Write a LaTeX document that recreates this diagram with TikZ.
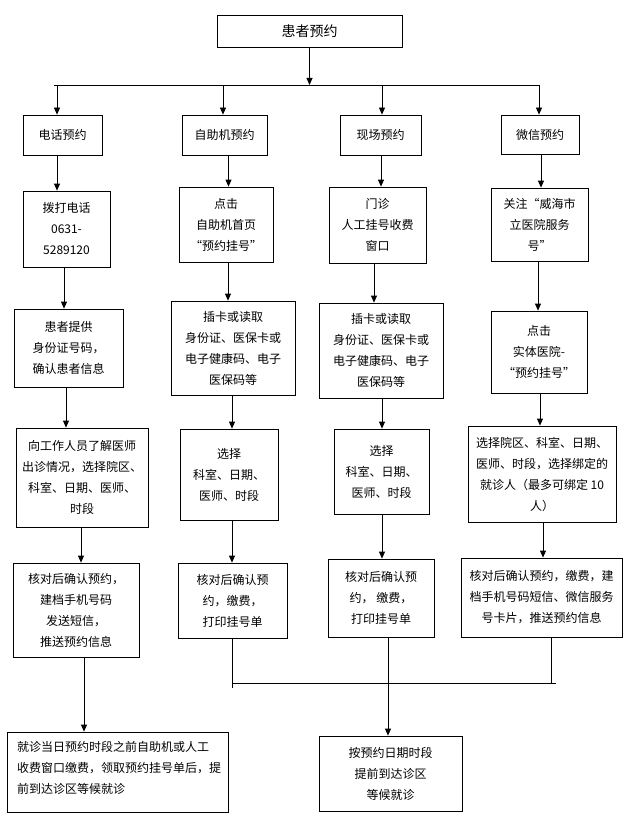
\documentclass[tikz,border=0pt]{standalone}
\usepackage{fontspec}
\setmainfont{Noto Sans CJK SC}
\usetikzlibrary{arrows.meta}
\begin{document}
\begin{tikzpicture}[x=1pt,y=-1pt,
  every node/.style={font=\fontsize{12}{21}\selectfont},
  box/.style={draw, line width=0.8pt, align=center, inner sep=2pt},
  conn/.style={line width=0.8pt},
  arr/.style={line width=0.8pt, -{Triangle[length=7pt,width=6pt]}}]
\useasboundingbox (0,0) rectangle (633,832);
\fill[white] (0,0) rectangle (633,832);
% top
\node[box, minimum width=185pt, minimum height=32pt, font=\fontsize{14}{16}\selectfont] (top) at (309.5,31) {患者预约};
\coordinate (hl) at (54,85);
\coordinate (hr) at (539,85);
\coordinate (ha) at (57,85);
\coordinate (hb) at (223,85);
\coordinate (hc) at (382,85);
\coordinate (hd) at (539,85);
% row 1
\node[box, minimum width=79pt, minimum height=40pt] (A1) at (62.5,135) {电话预约};
\node[box, minimum width=85pt, minimum height=40pt] (B1) at (224.5,135) {自助机预约};
\node[box, minimum width=81pt, minimum height=40pt] (C1) at (380.5,135) {现场预约};
\node[box, minimum width=78pt, minimum height=39pt] (D1) at (540,134.5) {微信预约};
% row 2
\node[box, minimum width=87pt, minimum height=76pt] (A2) at (66.5,229) {拨打电话\\0631-\\5289120};
\node[box, minimum width=94pt, minimum height=75pt] (B2) at (226,224.5) {点击\\自助机首页\\“预约挂号”};
\node[box, minimum width=97pt, minimum height=76pt] (C2) at (377.5,225) {门诊\\人工挂号收费\\窗口};
\node[box, minimum width=97pt, minimum height=73pt] (D2) at (539.5,224.5) {关注“威海市\\立医院服务\\号”};
% row 3
\node[box, minimum width=109pt, minimum height=78pt] (A3) at (68.5,348) {患者提供\\身份证号码，\\确认患者信息};
\node[box, minimum width=124pt, minimum height=94pt] (B3) at (233,348) {插卡或读取\\身份证、医保卡或\\电子健康码、电子\\医保码等};
\node[box, minimum width=124pt, minimum height=95pt] (C3) at (381,350.5) {插卡或读取\\身份证、医保卡或\\电子健康码、电子\\医保码等};
\node[box, minimum width=96pt, minimum height=82pt] (D3) at (539,352) {点击\\实体医院-\\“预约挂号”};
% row 4
\node[box, minimum width=132pt, minimum height=99pt] (A4) at (82,477.5) {向工作人员了解医师\\出诊情况，选择院区、\\科室、日期、医师、\\时段};
\node[box, minimum width=98pt, minimum height=91pt] (B4) at (229,474.5) {选择\\科室、日期、\\医师、时段};
\node[box, minimum width=95pt, minimum height=85pt] (C4) at (381.5,471.5) {选择\\科室、日期、\\医师、时段};
\node[box, minimum width=148pt, minimum height=96pt] (D4) at (542,474) {选择院区、科室、日期、\\医师、时段，选择绑定的\\就诊人（最多可绑定 10\\人）};
% row 5
\node[box, minimum width=126pt, minimum height=94pt] (A5) at (76,610) {核对后确认预约，\\建档手机号码\\发送短信，\\推送预约信息};
\node[box, minimum width=109pt, minimum height=75pt] (B5) at (232.5,600.5) {核对后确认预\\约，缴费，\\打印挂号单};
\node[box, minimum width=106pt, minimum height=78pt] (C5) at (381,598) {核对后确认预\\约，\ 缴费，\\打印挂号单};
\node[box, minimum width=161pt, minimum height=79pt] (D5) at (541.5,597.5) {核对后确认预约，缴费，建\\档手机号码短信、微信服务\\号卡片，推送预约信息};
% row 6
\node[box, minimum width=221pt, minimum height=80pt] (E1) at (117.5,772) {};
\node[anchor=north west, inner sep=0pt, align=left] (E1t) at (17,741) {就诊当日预约时段之前自助机或人工\\收费窗口缴费，领取预约挂号单后，提\\前到达诊区等候就诊};
\node[box, minimum width=143pt, minimum height=75pt] (E2) at (390.5,773.5) {按预约日期时段\\提前到达诊区\\等候就诊};
% top connectors
\draw[arr] (top.south) -- (top.south |- hl);
\draw[conn] (hl) -- (hr);
\draw[arr] (ha) -- (ha |- A1.north);
\draw[arr] (hb) -- (hb |- B1.north);
\draw[arr] (hc) -- (hc |- C1.north);
\draw[arr] (hd) -- (hd |- D1.north);
% column A
\draw[arr] (57,0 |- A1.south) -- (57,0 |- A2.north);
\draw[arr] (64,0 |- A2.south) -- (64,0 |- A3.north);
\draw[arr] (66,0 |- A3.south) -- (66,0 |- A4.north);
\draw[arr] (81,0 |- A4.south) -- (81,0 |- A5.north);
\draw[arr] (84,0 |- A5.south) -- (84,0 |- E1.north);
% column B
\draw[arr] (228.5,0 |- B1.south) -- (228.5,0 |- B2.north);
\draw[arr] (228,0 |- B2.south) -- (228,0 |- B3.north);
\draw[arr] (232,0 |- B3.south) -- (232,0 |- B4.north);
\draw[arr] (232,0 |- B4.south) -- (232,0 |- B5.north);
% column C
\draw[arr] (381,0 |- C1.south) -- (381,0 |- C2.north);
\draw[arr] (374,0 |- C2.south) -- (374,0 |- C3.north);
\draw[arr] (382,0 |- C3.south) -- (382,0 |- C4.north);
\draw[arr] (382,0 |- C4.south) -- (382,0 |- C5.north);
\draw[arr] (388,0 |- C5.south) -- (388,0 |- E2.north);
% column D
\draw[arr] (541,0 |- D1.south) -- (541,0 |- D2.north);
\draw[arr] (538,0 |- D2.south) -- (538,0 |- D3.north);
\draw[arr] (540,0 |- D3.south) -- (540,0 |- D4.north);
\draw[arr] (543,0 |- D4.south) -- (543,0 |- D5.north);
% merge
\coordinate (ml) at (232,683);
\coordinate (mr) at (556,683);
\coordinate (mb) at (232,688);
\coordinate (md) at (551,683);
\draw[conn] (ml |- B5.south) -- (mb);
\draw[conn] (md |- D5.south) -- (md);
\draw[conn] (ml) -- (mr);
\end{tikzpicture}
\end{document}
